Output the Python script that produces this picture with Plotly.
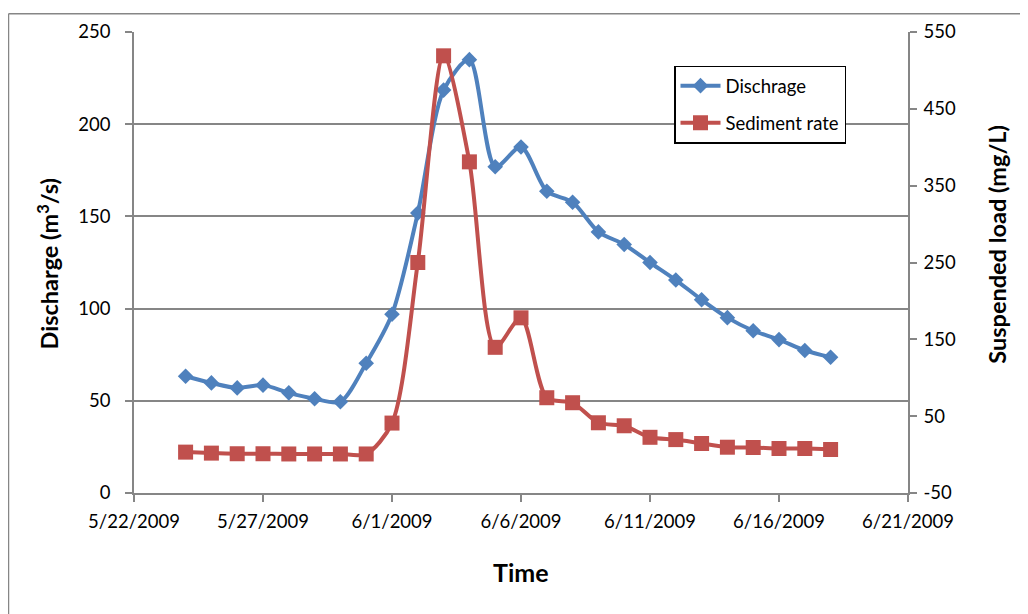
import plotly.graph_objects as go
import pandas as pd

dates = pd.date_range("2009-05-24", "2009-06-18", freq="D")
discharge = [63.3, 59.7, 57.0, 58.5, 54.3, 51.1, 49.5, 70.4, 96.9, 151.8, 218.5, 235.0, 176.9,
             187.6, 163.6, 157.7, 141.6, 134.8, 125.0, 115.5, 104.8, 95.1, 88.0, 83.2, 77.3, 73.6]
sediment = [3.2, 1.9, 1.1, 1.1, 0.8, 0.8, 0.8, 0.8, 41.0, 250.0, 519.0, 381.0, 139.6,
            178.0, 74.0, 67.5, 41.4, 37.5, 22.5, 19.5, 14.4, 9.6, 9.2, 7.9, 7.9, 6.6]
right_ticks = [-50, 50, 150, 250, 350, 450, 550]
right_labels = ["-50", "50", "150", "250", "350", "450", "550"]

BLUE = "#4F81BD"
RED = "#C0504D"
GRAY = "#868686"
FONT = "Lato, 'Open Sans', sans-serif"

# The page body has an 8px margin; the figure is sized/offset to compensate.
OFF = 8
W, H = 1028 - OFF, 614 - OFF
PL, PR, PT, PB = 134, 908, 27, 493  # plot area in window pixels
PW, PH = PR - PL, PB - PT


def px(x):
    return (x - PL) / PW


def py(y):
    return (PB - y) / PH


fig = go.Figure()
fig.add_trace(go.Scatter(
    x=dates, y=discharge, name="Dischrage", mode="lines+markers",
    line=dict(color=BLUE, width=4, shape="spline", smoothing=0.8),
    marker=dict(symbol="diamond", size=12, color=BLUE),
    legendgroup="a", yaxis="y"))
fig.add_trace(go.Scatter(
    x=dates, y=sediment, name="Sediment rate", mode="lines+markers",
    line=dict(color=RED, width=4, shape="spline", smoothing=0.8),
    marker=dict(symbol="square", size=15, color=RED),
    legendgroup="b", yaxis="y2"))

fig.update_layout(
    width=W, height=H,
    margin=dict(l=PL - OFF, r=W - (PR - OFF), t=PT - OFF, b=H - (PB - OFF)),
    paper_bgcolor="white", plot_bgcolor="white",
    font=dict(family=FONT, size=18.5, color="black"),
    showlegend=True,
    legend=dict(x=px(674), y=py(61), xanchor="left", yanchor="top",
                bordercolor="black", borderwidth=1.5, bgcolor="white",
                font=dict(family=FONT, size=18.5), tracegroupgap=10, itemwidth=40),
    xaxis=dict(type="date", range=["2009-05-22", "2009-06-21"],
               tick0="2009-05-22", dtick=5 * 86400000, tickformat="%-m/%-d/%Y",
               showgrid=False, showline=True, linecolor=GRAY, linewidth=1.5,
               ticks="outside", ticklen=7, tickcolor=GRAY, tickwidth=1.5,
               ticklabelstandoff=4, zeroline=False),
    yaxis=dict(range=[0, 250], tick0=0, dtick=50, showgrid=True, gridcolor=GRAY,
               gridwidth=1.5, showline=True, linecolor=GRAY, linewidth=1.5,
               ticks="outside", ticklen=7, tickcolor=GRAY, tickwidth=1.5,
               ticklabelstandoff=11, zeroline=False),
    yaxis2=dict(range=[-50, 550], tickmode="array", tickvals=right_ticks, ticktext=right_labels,
                overlaying="y", side="right",
                showgrid=False, showline=True, linecolor=GRAY, linewidth=1.5,
                ticks="outside", ticklen=7, tickcolor=GRAY, tickwidth=1.5,
                ticklabelstandoff=3, zeroline=False),
)

fig.add_annotation(text="<b>Discharge (m<sup>3</sup>/s)</b>", xref="paper", yref="paper",
                   x=px(48), y=py(262), textangle=-90, showarrow=False,
                   font=dict(family=FONT, size=23.5), xanchor="center", yanchor="middle")
fig.add_annotation(text="<b>Suspended load (mg/L)</b>", xref="paper", yref="paper",
                   x=px(997), y=py(242), textangle=-90, showarrow=False,
                   font=dict(family=FONT, size=23.5), xanchor="center", yanchor="middle")
fig.add_annotation(text="<b>Time</b>", xref="paper", yref="paper",
                   x=px(521), y=py(573), showarrow=False,
                   font=dict(family=FONT, size=25), xanchor="center", yanchor="middle")

# outer chart border (left and top edges visible)
fig.add_shape(type="line", xref="paper", yref="paper",
              x0=px(8.5), x1=px(8.5), y0=py(8.5), y1=py(640),
              line=dict(color=GRAY, width=1.5))
fig.add_shape(type="line", xref="paper", yref="paper",
              x0=px(8.5), x1=px(1050), y0=py(8.5), y1=py(8.5),
              line=dict(color=GRAY, width=1.5))

fig.write_html("out.html")
